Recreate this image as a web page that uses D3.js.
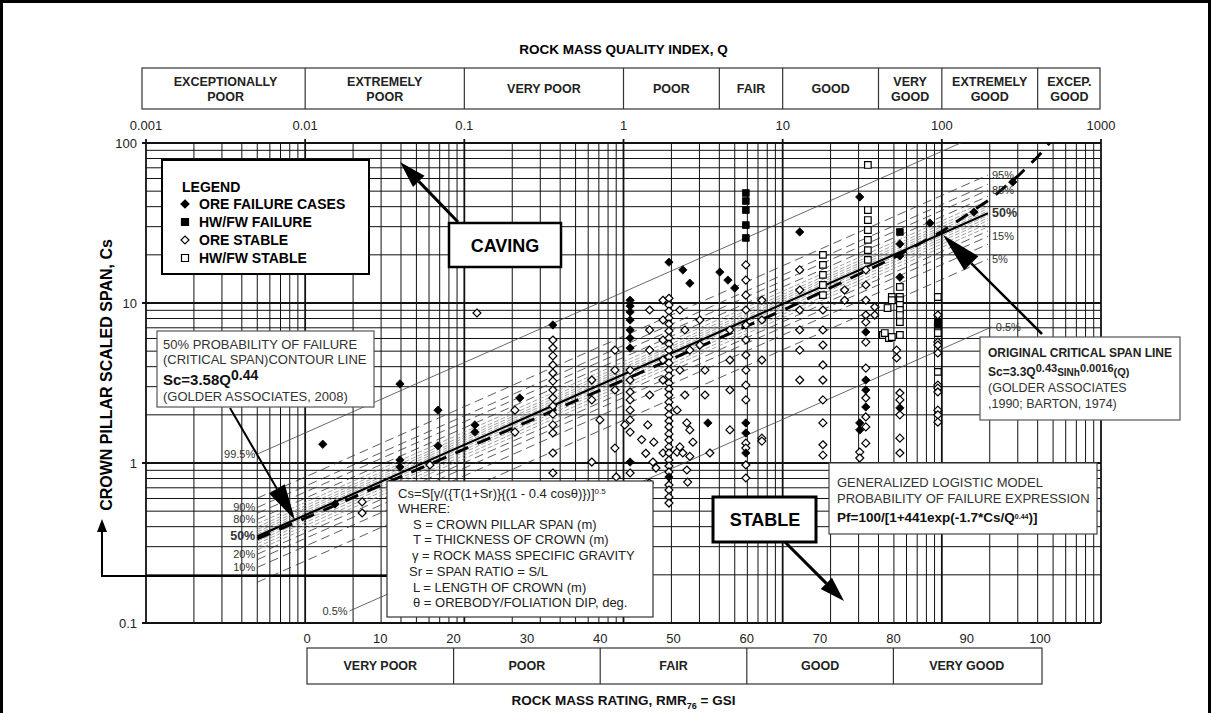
<!DOCTYPE html>
<html>
<head>
<meta charset="utf-8">
<script src="https://cdn.jsdelivr.net/npm/d3@7"></script>
<style>
  body { margin: 0; background: #fff; }
  svg { font-family: "Liberation Sans", Arial, sans-serif; }
</style>
</head>
<body>
<div id="chart"></div>
<script>
// Axis tick labels and rating classes
const qTicks = [0.001, 0.01, 0.1, 1, 10, 100, 1000];
const csTicks = [0.1, 1, 10, 100];
const rmrTicks = [0, 10, 20, 30, 40, 50, 60, 70, 80, 90, 100];
const qClassNames = ['EXCEPTIONALLY\nPOOR', 'EXTREMELY\nPOOR', 'VERY POOR', 'POOR', 'FAIR', 'GOOD', 'VERY\nGOOD', 'EXTREMELY\nGOOD', 'EXCEP.\nGOOD'];
const qClassBounds = [0.001, 0.01, 0.1, 1, 4, 10, 40, 100, 400, 1000];
const rmrClassNames = ['VERY POOR', 'POOR', 'FAIR', 'GOOD', 'VERY GOOD'];
const rmrClassBounds = [0, 20, 40, 60, 80, 100];

// Probability contours: Cs = k * Q^0.44, drawn between q0 and q1
const contourPct = [99.5, 95, 90, 85, 80, 75, 70, 65, 60, 55, 50, 45, 40, 35, 30, 25, 20, 15, 10, 5, 0.5];
const contourK   = [11.7, 6.2, 5.43, 4.99, 4.57, 4.3, 4.1, 3.95, 3.82, 3.7, 3.58, 3.46, 3.34, 3.22, 3.08, 2.94, 2.77, 2.56, 2.29, 1.85, 0.68];
const contourQ0  = [0.005, 0.005, 0.005, 0.005, 0.005, 0.005, 0.005, 0.005, 0.005, 0.005, 0.005, 0.005, 0.005, 0.005, 0.005, 0.005, 0.005, 0.005, 0.005, 0.005, 0.019];
const contourQ1  = [195, 195, 195, 195, 195, 195, 195, 195, 195, 195, 195, 195, 195, 195, 195, 195, 195, 195, 195, 195, 206];
const leftLabels = ['99.5%', '90%', '80%', '50%', '20%', '10%', '0.5%'];
const rightLabels = ['95%', '85%', '50%', '15%', '5%', '0.5%'];

// Original critical span line (Golder 1990 / Barton 1974), read points [Q, Sc]
const originalLine = [[0.005, 0.335], [0.1, 1.22], [1, 3.3], [10, 9.0], [50, 19.2], [100, 28], [200, 44.3], [300, 62], [400, 82], [480, 101]];

// Case histories [Q, Cs]
const oreFailure = [
  [0.0129, 1.31], [0.0154, 0.554], [0.0394, 3.12], [0.0394, 1.044], [0.0394, 0.944],
  [0.0683, 2.14], [0.0683, 1.28], [0.1165, 1.73], [0.1165, 1.56], [0.223, 2.55],
  [0.36, 7.29], [1.1, 10.4], [1.1, 9.58], [1.1, 8.79], [1.1, 7.83], [1.1, 6.78],
  [1.1, 6.04], [1.1, 5.23], [1.1, 1.014], [1.93, 18.0], [1.93, 0.818], [2.36, 16.1],
  [2.61, 13.3], [3.39, 1.78], [4.03, 15.6], [4.53, 13.9], [5.0, 12.4], [5.87, 1.78],
  [5.87, 1.54], [5.87, 1.155], [12.8, 27.8], [30.5, 46], [30.5, 1.78], [30.5, 1.61],
  [33.3, 6.59], [33.3, 3.3], [33.3, 2.86], [33.3, 2.24], [54.5, 23.4], [54.5, 19.7],
  [54.5, 14.5], [54.5, 2.21], [84.1, 31.6], [159, 37], [279, 57]
];
const hwFailure = [
  [5.87, 48.7], [5.87, 43.4], [5.87, 38.1], [5.87, 30.7], [5.87, 25.5],
  [54.5, 27.8], [94.4, 7.6], [94.4, 7.29]
];
const oreStable = [
  [0.0228, 0.571], [0.0228, 0.487], [0.0608, 0.972], [0.12, 8.66], [0.208, 1.56], [0.208, 2.14],
  [0.36, 5.87], [0.36, 5.23], [0.36, 4.67], [0.36, 4.1], [0.36, 3.65], [0.36, 3.25], [0.36, 2.86],
  [0.36, 2.55], [0.36, 2.27], [0.36, 2.02], [0.36, 1.73], [0.36, 1.54], [0.36, 1.155], [0.36, 0.866],
  [0.632, 3.3], [0.632, 2.48], [0.632, 1.014], [0.711, 1.86],
  [0.883, 5.08], [0.883, 3.81], [0.883, 2.86], [0.883, 1.24], [0.9, 0.818],
  [1.02, 1.73], [1.1, 3.81], [1.1, 3.3], [1.1, 2.78], [1.1, 2.48], [1.1, 2.14], [1.1, 1.86], [1.1, 1.56], [1.1, 0.866],
  [1.3, 1.4], [1.38, 1.15], [1.55, 1.35], [1.6, 0.93], [1.45, 0.75],
  [1.42, 1.73], [1.46, 9.04], [1.46, 6.78], [1.46, 5.08], [1.46, 2.66], [1.53, 1.014],
  [1.77, 10.4], [1.77, 7.83], [1.77, 5.87], [1.77, 4.4], [1.77, 3.3], [1.77, 1.155],
  [1.93, 10.7], [1.93, 9.7], [1.93, 8.9], [1.93, 8.06], [1.93, 7.39], [1.93, 6.68], [1.93, 6.04],
  [1.93, 5.54], [1.93, 5.08], [1.93, 4.6], [1.93, 4.22], [1.93, 3.81], [1.93, 3.5], [1.93, 3.16],
  [1.93, 2.9], [1.93, 2.66], [1.93, 2.4], [1.93, 2.21], [1.93, 2.0], [1.93, 1.83], [1.93, 1.68],
  [1.93, 1.52], [1.93, 1.39], [1.93, 1.26], [1.93, 1.155], [1.93, 1.044], [1.93, 0.958],
  [1.93, 0.879], [1.93, 0.729], [1.93, 0.678], [1.93, 0.613], [1.93, 0.562],
  [2.17, 1.17], [2.36, 1.155], [2.26, 1.26], [2.61, 1.1], [2.5, 0.904], [2.53, 0.76], [2.73, 1.35],
  [2.61, 1.61], [2.5, 1.78], [2.26, 9.04], [2.43, 6.78], [2.61, 5.08], [2.26, 3.81], [2.43, 2.66], [2.17, 2.14],
  [3.02, 7.83], [3.02, 5.46], [3.25, 3.81], [3.25, 2.66], [3.49, 1.155],
  [4.66, 6.78], [4.66, 4.4], [4.66, 2.86], [4.66, 1.61],
  [5.87, 17.3], [5.87, 13.9], [5.87, 11.2], [5.87, 9.04], [5.87, 7.29], [5.87, 5.87], [5.87, 4.73],
  [5.87, 3.81], [5.87, 3.07], [5.87, 2.48], [5.87, 1.33], [5.87, 1.24], [5.87, 0.972], [5.87, 0.806],
  [7.4, 10.4], [7.4, 7.83], [7.4, 4.4], [7.4, 1.43], [7.4, 1.37],
  [12.8, 16.1], [12.8, 12.05], [12.8, 9.04], [12.8, 6.78], [12.8, 5.08], [12.8, 3.3],
  [17.9, 9.04], [17.9, 6.78], [17.9, 5.46], [17.9, 4.1], [17.9, 3.3], [17.9, 2.48], [17.9, 1.78], [17.9, 1.3], [17.9, 1.12],
  [24.5, 12.05], [24.5, 10.4],
  [33.3, 16.1], [33.3, 12.96], [33.3, 10.4], [33.3, 8.41], [33.3, 7.6], [33.3, 5.7], [33.3, 3.92],
  [33.3, 2.55], [33.3, 1.94], [33.3, 1.68], [33.3, 1.33], [30.5, 1.17], [30.5, 1.075],
  [37.9, 9.44], [37.9, 8.41],
  [52, 5.08], [52, 4.53], [54.5, 2.74], [54.5, 2.48], [54.5, 2.0], [54.5, 1.43], [54.5, 1.155],
  [94.4, 8.41], [94.4, 5.7], [94.4, 5.46], [94.4, 4.87], [94.4, 3.07], [94.4, 2.94], [94.4, 2.78],
  [94.4, 2.14], [94.4, 2.0], [94.4, 1.8]
];
const hwStable = [
  [17.9, 20.0], [17.9, 17.3], [17.9, 15.0], [17.9, 12.96], [17.9, 11.2],
  [34.3, 72.9], [34.3, 38.1], [34.3, 33], [34.3, 28.6], [34.3, 24.8], [34.3, 21.4], [34.3, 18.6],
  [42.6, 6.31], [46.5, 6.04], [54.5, 6.31], [48.5, 10.9], [48.5, 10.4], [45.6, 9.3], [43.8, 6.49], [48.5, 6.13],
  [54.5, 12.6], [54.5, 10.9], [54.5, 10.4], [54.5, 9.72], [54.5, 9.04], [54.5, 8.41], [54.5, 7.6],
  [94.4, 10.9], [94.4, 6.98], [94.4, 6.49], [94.4, 3.71]
];

// ---------------------------------------------------------------
const width = 1211, height = 713;
const svg = d3.select('#chart').append('svg')
  .attr('width', width).attr('height', height);

const x = d3.scaleLog().domain([0.001, 1000]).range([146, 1101]);
const y = d3.scaleLog().domain([0.1, 100]).range([623, 143]);
// RMR scale as printed under the chart
const rmr = d3.scaleLinear().domain([0, 100]).range([307, 1040]);
const isDecade = d => Math.abs(Math.log10(d) - Math.round(Math.log10(d))) < 1e-9;

// page frame
svg.append('rect').attr('x', 1.5).attr('y', 1.5).attr('width', width - 3).attr('height', height + 20)
  .attr('fill', 'none').attr('stroke', '#000').attr('stroke-width', 3);

// Title
svg.append('text').attr('x', x(1)).attr('y', 54).attr('text-anchor', 'middle')
  .attr('font-weight', 'bold').attr('font-size', 13.5).text('ROCK MASS QUALITY INDEX, Q');

// Q class header
const header = svg.append('g');
header.append('rect').attr('x', x(0.001) - 4).attr('y', 68).attr('width', x(1000) - x(0.001) + 3).attr('height', 41)
  .attr('fill', 'none').attr('stroke', '#333').attr('stroke-width', 1.2);
header.selectAll('line').data(qClassBounds.slice(1, -1)).join('line')
  .attr('x1', d => x(d)).attr('x2', d => x(d)).attr('y1', 68).attr('y2', 109)
  .attr('stroke', '#333').attr('stroke-width', 1.2);
qClassNames.forEach((name, i) => {
  const cx = (x(qClassBounds[i]) + x(qClassBounds[i + 1])) / 2;
  const lines = name.split('\n');
  const t = header.append('text').attr('text-anchor', 'middle').attr('font-weight', 'bold')
    .attr('font-size', 12.5).attr('fill', '#222');
  lines.forEach((l, j) => {
    t.append('tspan').attr('x', cx).attr('y', 93 + (j - (lines.length - 1) / 2) * 15).text(l);
  });
});

// Q tick labels
svg.append('g').selectAll('text').data(qTicks).join('text')
  .attr('x', d => x(d)).attr('y', 130).attr('text-anchor', 'middle')
  .attr('font-size', 13).attr('fill', '#222').text(d => d);

// Cs tick labels
svg.append('g').selectAll('text').data(csTicks).join('text')
  .attr('x', 137).attr('y', d => y(d) + 5).attr('text-anchor', 'end')
  .attr('font-size', 13).attr('fill', '#222').text(d => d);

// Grid
const grid = svg.append('g');
grid.selectAll('.vg').data(x.ticks()).join('line')
  .attr('x1', d => x(d)).attr('x2', d => x(d))
  .attr('y1', d => isDecade(d) ? 139 : 143).attr('y2', 623)
  .attr('stroke', '#111').attr('stroke-width', d => isDecade(d) ? 1.8 : 1);
grid.selectAll('.hg').data(y.ticks()).join('line')
  .attr('x1', d => isDecade(d) ? 142 : 146).attr('x2', 1101)
  .attr('y1', d => y(d)).attr('y2', d => y(d))
  .attr('stroke', '#111').attr('stroke-width', d => isDecade(d) ? 1.8 : 1);

// Contours
svg.append('clipPath').attr('id', 'plotClip').append('rect')
  .attr('x', 146).attr('y', 143).attr('width', 955).attr('height', 480);
const contours = svg.append('g').attr('clip-path', 'url(#plotClip)');
const csAt = (k, q) => k * Math.pow(q, 0.44);
contourPct.forEach((p, i) => {
  const k = contourK[i], q0 = contourQ0[i], q1 = contourQ1[i];
  let stroke = '#333', sw = 0.8, dash = '9,5';
  if (p === 50) { stroke = '#000'; sw = 2.2; dash = null; }
  else if (p === 99.5 || p === 0.5) { stroke = '#444'; sw = 0.8; dash = null; }
  else if (p > 20 && p < 80) { stroke = '#8a8a8a'; sw = 0.8; dash = '5,2'; }
  contours.append('line')
    .attr('x1', x(q0)).attr('y1', y(csAt(k, q0)))
    .attr('x2', x(q1)).attr('y2', y(csAt(k, q1)))
    .attr('stroke', stroke).attr('stroke-width', sw)
    .attr('stroke-dasharray', dash);
});
// original critical span line
contours.append('path').datum(originalLine)
  .attr('d', d3.line().x(d => x(d[0])).y(d => y(d[1])))
  .attr('fill', 'none').attr('stroke', '#000').attr('stroke-width', 3)
  .attr('stroke-dasharray', '14,10');

// contour labels
const pctLabel = (txt, px, py, anchor) => {
  svg.append('text').attr('x', px).attr('y', py + 4).attr('text-anchor', anchor)
    .attr('font-size', txt === '50%' ? 12.5 : 11).attr('font-weight', txt === '50%' ? 'bold' : 'normal')
    .attr('fill', '#333').text(txt);
};
leftLabels.forEach(t => {
  const i = contourPct.indexOf(parseFloat(t));
  pctLabel(t, x(contourQ0[i]) - 2, y(csAt(contourK[i], contourQ0[i])), 'end');
});
rightLabels.forEach(t => {
  const i = contourPct.indexOf(parseFloat(t));
  pctLabel(t, x(contourQ1[i]) + 4, y(csAt(contourK[i], contourQ1[i])), 'start');
});

// Points
const diamond = r => `M0,${-r}L${r},0L0,${r}L${-r},0Z`;
const square = r => `M${-r},${-r}H${r}V${r}H${-r}Z`;
const pts = svg.append('g');
const drawPts = (data, shape, filled) => {
  pts.append('g').selectAll('path').data(data).join('path')
    .attr('transform', d => `translate(${x(d[0])},${y(d[1])})`)
    .attr('d', shape)
    .attr('fill', filled ? '#000' : '#fff')
    .attr('stroke', '#000').attr('stroke-width', filled ? 0.8 : 1.2);
};
drawPts(oreStable, diamond(4), false);
drawPts(hwStable, square(3.3), false);
drawPts(oreFailure, diamond(4.2), true);
drawPts(hwFailure, square(3.4), true);

// Arrow helper
function arrow(x1, y1, x2, y2, len, half, sw) {
  const a = Math.atan2(y2 - y1, x2 - x1);
  const bx = x2 - len * Math.cos(a), by = y2 - len * Math.sin(a);
  svg.append('line').attr('x1', x1).attr('y1', y1).attr('x2', bx).attr('y2', by)
    .attr('stroke', '#000').attr('stroke-width', sw);
  const px = -Math.sin(a) * half, py = Math.cos(a) * half;
  svg.append('path')
    .attr('d', `M${x2},${y2}L${bx + px},${by + py}L${bx - px},${by - py}Z`)
    .attr('fill', '#000');
}

// Legend
const leg = svg.append('g');
leg.append('rect').attr('x', 162).attr('y', 160).attr('width', 207).attr('height', 114)
  .attr('fill', '#fff').attr('stroke', '#000').attr('stroke-width', 2);
leg.append('text').attr('x', 182).attr('y', 192).attr('font-weight', 'bold').attr('font-size', 14).text('LEGEND');
const legItems = [
  ['ORE FAILURE CASES', diamond(4), true],
  ['HW/FW FAILURE', square(3.5), true],
  ['ORE STABLE', diamond(4), false],
  ['HW/FW STABLE', square(3.5), false]
];
legItems.forEach((it, i) => {
  const cy = 204 + i * 18;
  leg.append('path').attr('transform', `translate(185,${cy})`).attr('d', it[1])
    .attr('fill', it[2] ? '#000' : '#fff').attr('stroke', '#000').attr('stroke-width', 1.2);
  leg.append('text').attr('x', 199).attr('y', cy + 5).attr('font-weight', 'bold').attr('font-size', 14).text(it[0]);
});

// CAVING
arrow(458, 222, 400, 162, 27, 8, 3);
svg.append('rect').attr('x', 449).attr('y', 223).attr('width', 112).attr('height', 44)
  .attr('fill', '#fff').attr('stroke', '#000').attr('stroke-width', 2.5);
svg.append('text').attr('x', 505).attr('y', 252).attr('text-anchor', 'middle')
  .attr('font-weight', 'bold').attr('font-size', 18).text('CAVING');

// 50% box
arrow(230, 408, 295, 520, 36, 9, 2);
const b50 = svg.append('g');
b50.append('rect').attr('x', 157).attr('y', 331).attr('width', 217).attr('height', 76)
  .attr('fill', '#fff').attr('stroke', '#555').attr('stroke-width', 1.2);
b50.append('text').attr('x', 163).attr('y', 349).attr('font-size', 13).attr('fill', '#333').text('50% PROBABILITY OF  FAILURE');
b50.append('text').attr('x', 163).attr('y', 364).attr('font-size', 13).attr('fill', '#333').text('(CRITICAL SPAN)CONTOUR LINE');
const sc = b50.append('text').attr('x', 163).attr('y', 385).attr('font-size', 15).attr('font-weight', 'bold').attr('fill', '#111');
sc.append('tspan').text('Sc=3.58Q');
sc.append('tspan').attr('dy', -5).attr('font-size', 14).text('0.44');
b50.append('text').attr('x', 163).attr('y', 401).attr('font-size', 13).attr('fill', '#333').text('(GOLDER  ASSOCIATES, 2008)');

// Y axis title and arrow
svg.append('text').attr('transform', 'translate(112,375) rotate(-90)').attr('text-anchor', 'middle')
  .attr('font-weight', 'bold').attr('font-size', 16).text('CROWN PILLAR SCALED SPAN, Cs');
svg.append('line').attr('x1', 102).attr('y1', 576).attr('x2', 388).attr('y2', 576)
  .attr('stroke', '#000').attr('stroke-width', 2);
arrow(102, 577, 102, 519, 13, 5, 2);

// Cs formula box
const fb = svg.append('g');
fb.append('rect').attr('x', 387).attr('y', 481).attr('width', 266).attr('height', 136)
  .attr('fill', '#fff').attr('stroke', '#333').attr('stroke-width', 1.2);
const f1 = fb.append('text').attr('x', 398).attr('y', 498).attr('font-size', 13).attr('fill', '#222');
f1.append('tspan').text('Cs=S[\u03b3/({T(1+Sr)}{(1 - 0.4 cos\u03b8)})]');
f1.append('tspan').attr('dy', -4).attr('font-size', 8).text('0.5');
const fLines = [
  ['WHERE:', 398],
  ['S = CROWN PILLAR SPAN (m)', 413],
  ['T = THICKNESS OF CROWN (m)', 413],
  ['\u03b3 = ROCK MASS SPECIFIC GRAVITY', 412],
  ['Sr = SPAN RATIO = S/L', 409],
  ['L = LENGTH OF CROWN (m)', 413],
  ['\u03b8 = OREBODY/FOLIATION DIP, deg.', 413]
];
fLines.forEach((l, i) => {
  fb.append('text').attr('x', l[1]).attr('y', 513 + i * 15.7).attr('font-size', 13).attr('fill', '#222').text(l[0]);
});

// STABLE
arrow(785, 542, 844, 601, 25, 8, 3);
svg.append('rect').attr('x', 713).attr('y', 497).attr('width', 103).attr('height', 45)
  .attr('fill', '#fff').attr('stroke', '#000').attr('stroke-width', 3);
svg.append('text').attr('x', 765).attr('y', 526).attr('text-anchor', 'middle')
  .attr('font-weight', 'bold').attr('font-size', 18).text('STABLE');

// Logistic model box
const lb = svg.append('g');
lb.append('rect').attr('x', 829).attr('y', 463).attr('width', 268).attr('height', 71)
  .attr('fill', '#fff').attr('stroke', '#444').attr('stroke-width', 1.2);
lb.append('text').attr('x', 837).attr('y', 487).attr('font-size', 13).attr('fill', '#333').text('GENERALIZED LOGISTIC MODEL');
lb.append('text').attr('x', 837).attr('y', 503).attr('font-size', 13).attr('fill', '#333').text('PROBABILITY OF FAILURE EXPRESSION');
const pf = lb.append('text').attr('x', 837).attr('y', 522).attr('font-size', 13.5).attr('font-weight', 'bold').attr('fill', '#111');
pf.append('tspan').text('Pf=100/[1+441exp(-1.7*Cs/Q');
pf.append('tspan').attr('dy', -3).attr('font-size', 7).text('0.44');
pf.append('tspan').attr('dy', 3).text(')]');

// Original critical span box
arrow(1042, 334, 943, 235, 40, 10, 2.5);
const ob = svg.append('g');
ob.append('rect').attr('x', 980).attr('y', 337).attr('width', 200).attr('height', 83)
  .attr('fill', '#fff').attr('stroke', '#555').attr('stroke-width', 1.2);
ob.append('text').attr('x', 988).attr('y', 357).attr('font-size', 12).attr('font-weight', 'bold').attr('fill', '#222').text('ORIGINAL CRITICAL SPAN LINE');
const os = ob.append('text').attr('x', 988).attr('y', 376).attr('font-size', 12).attr('font-weight', 'bold').attr('fill', '#222');
os.append('tspan').text('Sc=3.3Q');
os.append('tspan').attr('dy', -4).attr('font-size', 11).text('0.43');
os.append('tspan').attr('dy', 4).attr('font-size', 10).text('SINh');
os.append('tspan').attr('dy', -4).attr('font-size', 11).text('0.0016');
os.append('tspan').attr('dy', 4).attr('font-size', 11).text('(Q)');
ob.append('text').attr('x', 988).attr('y', 392).attr('font-size', 12.5).attr('fill', '#333').text('(GOLDER ASSOCIATES');
ob.append('text').attr('x', 988).attr('y', 408).attr('font-size', 12.5).attr('fill', '#333').text(',1990; BARTON, 1974)');

// RMR axis
svg.append('g').selectAll('text').data(rmrTicks).join('text')
  .attr('x', d => rmr(d)).attr('y', 643).attr('text-anchor', 'middle')
  .attr('font-size', 13).attr('fill', '#222').text(d => d);
const rb = svg.append('g');
rb.append('rect').attr('x', rmr(0)).attr('y', 648).attr('width', rmr(100) - rmr(0) + 2).attr('height', 36)
  .attr('fill', 'none').attr('stroke', '#333').attr('stroke-width', 1.2);
rb.selectAll('line').data(rmrClassBounds.slice(1, -1)).join('line')
  .attr('x1', d => rmr(d)).attr('x2', d => rmr(d)).attr('y1', 648).attr('y2', 684)
  .attr('stroke', '#333').attr('stroke-width', 1.2);
rmrClassNames.forEach((n, i) => {
  rb.append('text').attr('x', (rmr(rmrClassBounds[i]) + rmr(rmrClassBounds[i + 1])) / 2).attr('y', 670)
    .attr('text-anchor', 'middle').attr('font-weight', 'bold').attr('font-size', 12.5).attr('fill', '#222').text(n);
});
const bt = svg.append('text').attr('x', x(1)).attr('y', 705).attr('text-anchor', 'middle')
  .attr('font-weight', 'bold').attr('font-size', 13.5).attr('fill', '#111');
bt.append('tspan').text('ROCK MASS RATING, RMR');
bt.append('tspan').attr('dy', 4).attr('font-size', 9).text('76');
bt.append('tspan').attr('dy', -4).text(' = GSI');
</script>
</body>
</html>
